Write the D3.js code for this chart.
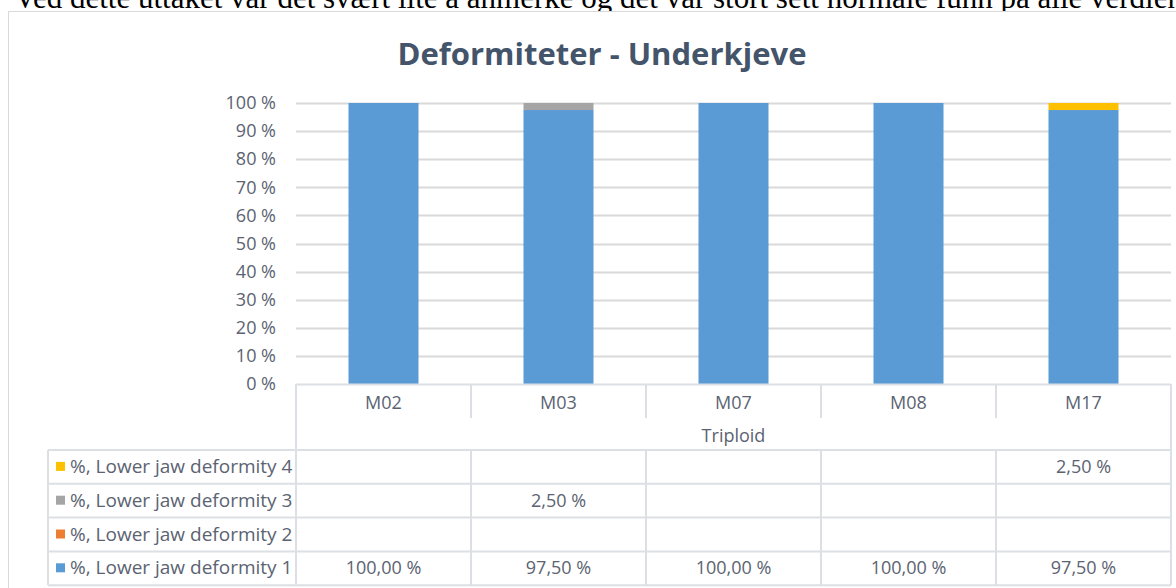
<!DOCTYPE html>
<html>
<head>
<meta charset="utf-8">
<script src="https://cdn.jsdelivr.net/npm/d3@7"></script>
<style>
  html, body { margin: 0; padding: 0; background: #ffffff; overflow: hidden; }
  svg { display: block; }
</style>
</head>
<body>
<div class="chart"></div>
<script>
'use strict';

// Chart data
var categories = ['M02', 'M03', 'M07', 'M08', 'M17'];
var groupLabel = 'Triploid';
var seriesNames = [
  '%, Lower jaw deformity 1',
  '%, Lower jaw deformity 2',
  '%, Lower jaw deformity 3',
  '%, Lower jaw deformity 4'
];
var seriesColors = ['#5b9bd5', '#ed7d31', '#a5a5a5', '#ffc000'];
var deformity1 = [100, 97.5, 100, 100, 97.5];
var deformity2 = [null, null, null, null, null];
var deformity3 = [null, 2.5, null, null, null];
var deformity4 = [null, null, null, null, 2.5];
var yTicks = [0, 10, 20, 30, 40, 50, 60, 70, 80, 90, 100];

var seriesValues = [deformity1, deformity2, deformity3, deformity4];

var width  = 1176,
    height = 588;
var font = '"Open Sans", Lato, sans-serif';
var textColor = '#5b6372';
var lineColor = '#dcdfe4';

var svg = d3.select('.chart')
  .append('svg')
  .attr('width', width)
  .attr('height', height);

// Document text above the chart (clipped by the page edge)
svg.append('text')
  .attr('x', 14)
  .attr('y', 8)
  .style('font-family', '"Liberation Serif", "Times New Roman", serif')
  .style('font-size', '31px')
  .style('fill', '#000')
  .text('Ved dette uttaket var det svært lite å anmerke og det var stort sett normale funn på alle verdiene');

// Chart frame
svg.append('rect')
  .attr('x', 8.5)
  .attr('y', 11.5)
  .attr('width', 1300)
  .attr('height', 700)
  .style('fill', '#fff')
  .style('stroke', '#d9d9d9');

// Title
svg.append('text')
  .attr('x', 602)
  .attr('y', 65)
  .attr('text-anchor', 'middle')
  .style('font-family', font)
  .style('font-size', '31px')
  .style('font-weight', 'bold')
  .style('fill', '#44546a')
  .text('Deformiteter - Underkjeve');

// Scales
var x = d3.scaleBand()
  .domain(categories)
  .range([296, 1171])
  .padding(0);

var y = d3.scaleLinear()
  .domain([0, 100])
  .range([384, 103]);

var barWidth = x.bandwidth() * 0.4;

// Gridlines
svg.append('g')
  .selectAll('line')
  .data(yTicks.slice(1)).enter()
  .append('line')
    .attr('x1', 296)
    .attr('x2', 1171)
    .attr('y1', function(d) { return Math.round(y(d)) + 0.5; })
    .attr('y2', function(d) { return Math.round(y(d)) + 0.5; })
    .style('stroke', '#d9d9d9')
    .style('stroke-width', 2);

// Y axis labels
var yAxis = d3.axisLeft(y)
  .tickValues(yTicks)
  .tickSize(0)
  .tickPadding(0)
  .tickFormat(function(d) { return d + ' %'; });

var yg = svg.append('g')
  .attr('transform', 'translate(276,0)')
  .call(yAxis);
yg.select('.domain').remove();
yg.selectAll('text')
  .style('font-family', font)
  .style('font-size', '18px')
  .style('fill', textColor);

// Stacked bars
var stackData = categories.map(function(c, i) {
  var row = { cat: c };
  seriesNames.forEach(function(s, j) { row[s] = seriesValues[j][i] || 0; });
  return row;
});
var stacked = d3.stack().keys(seriesNames)(stackData);

svg.append('g')
  .selectAll('g')
  .data(stacked).enter()
  .append('g')
    .style('fill', function(d, i) { return seriesColors[i]; })
  .selectAll('rect')
  .data(function(d) { return d.filter(function(p) { return p[1] - p[0] > 0; }); }).enter()
  .append('rect')
    .attr('x', function(d) { return x(d.data.cat) + (x.bandwidth() - barWidth) / 2; })
    .attr('y', function(d) { return y(d[1]); })
    .attr('width', barWidth)
    .attr('height', function(d) { return y(d[0]) - y(d[1]); });

// Category axis + data table
var table = svg.append('g');
var rowTop = 450, rowH = 33.8;
var bottom = rowTop + rowH * seriesNames.length;

function hline(x1, x2, yy) {
  table.append('line')
    .attr('x1', x1).attr('x2', x2)
    .attr('y1', yy).attr('y2', yy)
    .style('stroke', lineColor).style('stroke-width', 2);
}
function vline(xx, y1, y2) {
  table.append('line')
    .attr('x1', xx).attr('x2', xx)
    .attr('y1', y1).attr('y2', y2)
    .style('stroke', lineColor).style('stroke-width', 2);
}

// axis line
hline(296, 1171, 384.5);
// left / right edges of category area
vline(296, 384, bottom);
vline(1171, 384, bottom);
// category separators (upper level)
categories.slice(1).forEach(function(c) { vline(x(c), 384, 418); });
// data table rows
for (var r = 0; r <= seriesNames.length; r++) {
  hline(48, 1171, rowTop + r * rowH);
}
vline(48, rowTop, bottom);
categories.slice(1).forEach(function(c) { vline(x(c), rowTop, bottom); });

// Category labels
table.selectAll('.cat')
  .data(categories).enter()
  .append('text')
    .attr('x', function(d) { return x(d) + x.bandwidth() / 2; })
    .attr('y', 409)
    .attr('text-anchor', 'middle')
    .style('font-family', font)
    .style('font-size', '18px')
    .style('fill', textColor)
    .text(function(d) { return d; });

table.append('text')
  .attr('x', (296 + 1171) / 2)
  .attr('y', 442)
  .attr('text-anchor', 'middle')
  .style('font-family', font)
  .style('font-size', '18px')
  .style('fill', textColor)
  .text(groupLabel);

// Table rows: series shown top to bottom in reverse order
var rowOrder = d3.range(seriesNames.length).reverse();
rowOrder.forEach(function(si, r) {
  var cy = rowTop + r * rowH + rowH / 2;
  table.append('rect')
    .attr('x', 56)
    .attr('y', cy - 5)
    .attr('width', 9)
    .attr('height', 9)
    .style('fill', seriesColors[si]);
  table.append('text')
    .attr('x', 70)
    .attr('y', cy + 6)
    .style('font-family', font)
    .style('font-size', '19px')
    .style('fill', textColor)
    .text(seriesNames[si]);
  table.selectAll(null)
    .data(seriesValues[si].map(function(v, i) { return { v: v, c: categories[i] }; })
      .filter(function(d) { return d.v !== null; }))
    .enter()
    .append('text')
      .attr('x', function(d) { return x(d.c) + x.bandwidth() / 2; })
      .attr('y', cy + 6)
      .attr('text-anchor', 'middle')
      .style('font-family', font)
      .style('font-size', '18px')
      .style('fill', textColor)
      .text(function(d) { return d3.format('.2f')(d.v).replace('.', ',') + ' %'; });
});
</script>
</body>
</html>
